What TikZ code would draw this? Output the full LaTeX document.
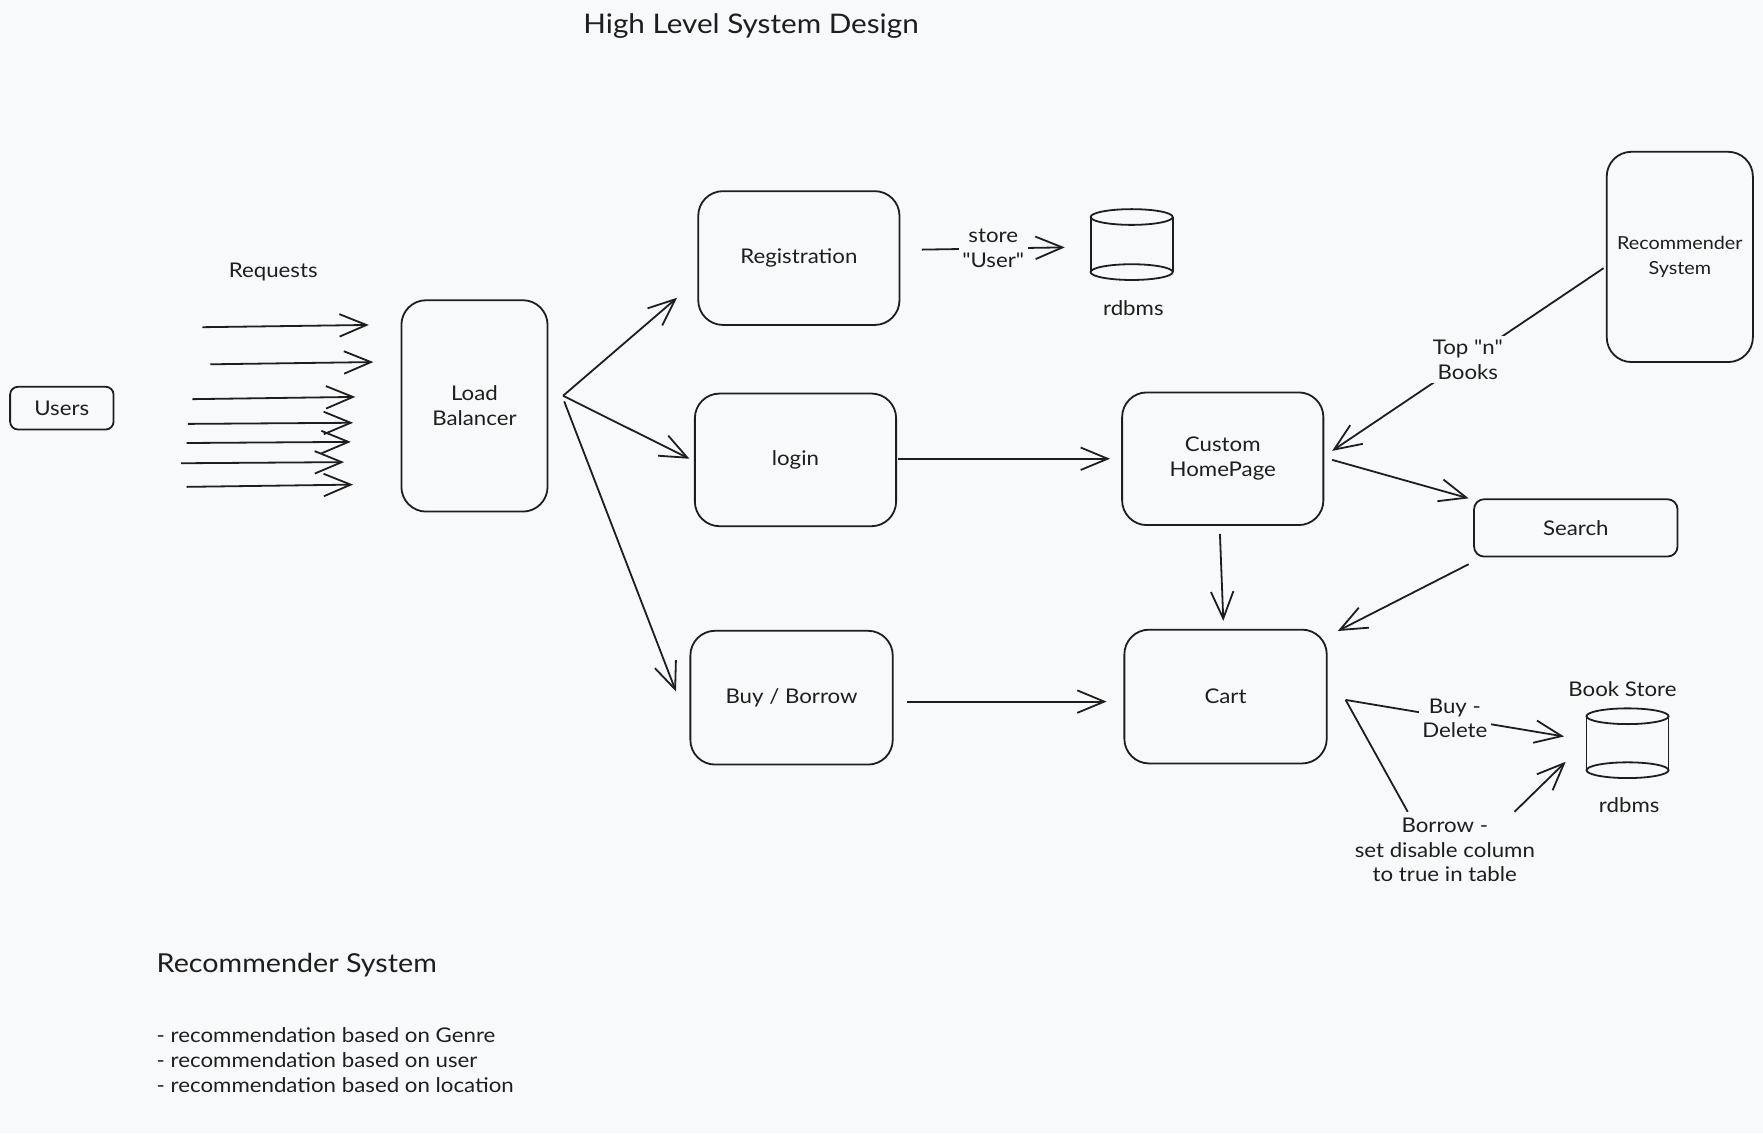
\documentclass[tikz,border=0pt]{standalone}
\usepackage{fontspec}
\setmainfont{Lato}[Ligatures=TeXOff, FakeStretch=1.1]
\usetikzlibrary{arrows.meta,calc}
\definecolor{bg}{HTML}{F8F9FA}
\definecolor{ink}{HTML}{1E1E1E}
\newcommand{\lblfont}{\fontsize{9pt}{11pt}\selectfont}
\begin{document}
\begin{tikzpicture}[x=0.5pt,y=-0.5pt,
  box/.style={draw=ink, line width=0.8pt, rounded corners=11pt, align=center,
              font=\lblfont, text=ink, inner sep=0pt},
  dbbox/.style={inner sep=0pt, outer sep=0pt},
  txt/.style={font=\lblfont, text=ink, inner sep=0pt, align=center},
  lbl/.style={font=\lblfont, text=ink, inner sep=1.5pt, align=center, fill=bg},
  arr/.style={draw=ink, line width=0.8pt, -{Straight Barb[length=12pt,width=10pt]}},
  ln/.style={draw=ink, line width=0.8pt}
]
\fill[bg] (0,0) rectangle (1568,1008);
\useasboundingbox (0,0) rectangle (1568,1008);

% title
\node[txt, font=\fontsize{12pt}{14pt}\selectfont] (title) at (668,23) {High Level System Design};

% boxes
\node[box, rounded corners=3.5pt, minimum width=46pt, minimum height=19pt] (users) at (55,363) {Users};
\node[box, minimum width=65pt, minimum height=94pt] (lb) at (422,361) {Load\\Balancer};
\node[box, minimum width=89.5pt, minimum height=59.5pt] (reg) at (710.5,229.5) {Registration};
\node[box, minimum width=89.5pt, minimum height=59pt] (login) at (707.5,409) {login};
\node[box, minimum width=90pt, minimum height=59.5pt] (buy) at (704,620.5) {Buy / Borrow};
\node[box, minimum width=89.5pt, minimum height=59pt] (home) at (1087.5,408) {Custom\\HomePage};
\node[box, minimum width=90pt, minimum height=59.5pt] (cart) at (1090,619.5) {Cart};
\node[box, rounded corners=4.5pt, minimum width=90.5pt, minimum height=25.5pt] (search) at (1401.5,469.5) {Search};
\node[box, font=\fontsize{8pt}{11pt}\selectfont, minimum width=65pt, minimum height=93.5pt] (rec) at (1494,228.5) {Recommender\\System};

% databases
\node[dbbox, minimum width=36.5pt, minimum height=31.5pt] (db1) at (1006.5,217.5) {};
\node[dbbox, minimum width=36.5pt, minimum height=31pt] (db2) at (1447.5,661) {};
\foreach \d in {db1,db2}{
  \draw[ln] ($(\d.north)+(0,7)$) ellipse [x radius=18.25pt, y radius=3.5pt];
  \draw[ln] ($(\d.south)+(0,-7)$) ellipse [x radius=18.25pt, y radius=3.5pt];
  \draw[ln] ($(\d.north west)+(0,7)$) -- ($(\d.south west)+(0,-7)$);
  \draw[ln] ($(\d.north east)+(0,7)$) -- ($(\d.south east)+(0,-7)$);
}

% plain texts
\node[txt] (req) at (243,242) {Requests};
\node[txt] (rdb1) at (1008,274) {rdbms};
\node[txt] (bstore) at (1443,613) {Book Store};
\node[txt] (rdb2) at (1449,716) {rdbms};
\node[txt, anchor=west, font=\fontsize{11.6pt}{14pt}\selectfont] (rshead) at (139,858) {Recommender System};
\node[txt, anchor=west, align=left, font=\fontsize{9pt}{11.25pt}\selectfont] (rslist) at (139,943)
  {- recommendation based on Genre\\- recommendation based on user\\- recommendation based on location};

% request arrows
\foreach \i/\a/\b/\c/\d in {1/180/291/328/289, 2/187/324/332/322, 3/171/355/316/353,
    4/167/377/314/376, 5/166/394/312/393, 6/161/412/306/411, 7/166/433/314/431}{
  \coordinate (rs\i) at (\a,\b);
  \coordinate (re\i) at (\c,\d);
  \draw[arr] (rs\i) -- (re\i);
}

% load balancer fan-out
\coordinate (lbo) at ($(lb.east)+(13,-9)$);
\coordinate (lbo2) at ($(lb.east)+(14,-4)$);
\draw[arr] (lbo) -- ($(reg.south west)+(-18,-25)$);
\draw[arr] (lbo) -- ($(login.west)+(-4,-1)$);
\draw[arr] (lbo2) -- ($(buy.west)+(-12,-5.5)$);

% registration -> rdbms
\draw[arr] ($(reg.east)+(19,-7.5)$) -- node[lbl] (storelbl) {store\\"User"} ($(db1.west)+(-23,2.5)$);

% login -> home, buy -> cart
\draw[arr] ($(login.east)+(1,-1)$) -- ($(home.west)+(-10,0)$);
\draw[arr] ($(buy.east)+(12,3.5)$) -- ($(cart.west)+(-15,4.5)$);

% home -> cart, home -> search, search -> cart
\draw[arr] ($(home.south)+(-2.5,7)$) -- ($(cart.north)+(-2,-7)$);
\draw[arr] ($(home.east)+(7,1)$) -- ($(search.north west)+(-4,0)$);
\draw[arr] ($(search.south west)+(-4,6)$) -- ($(cart.north east)+(9,2)$);

% recommender -> home
\draw[arr] ($(rec.west)+(-2,10)$) -- node[lbl] (toplbl) {Top "n"\\Books} ($(home.east)+(7,-7)$);

% cart -> book store
\coordinate (cout) at ($(cart.east)+(16,3)$);
\draw[arr] (cout) -- node[lbl] (buylbl) {Buy -\\Delete} ($(db2.west)+(-20,-6)$);
\node[txt] (borrowlbl) at (1285,756) {Borrow -\\set disable column\\to true in table};
\coordinate (bw1) at (1252,722);
\coordinate (bw2) at (1347,722);
\draw[ln] (cout) -- (bw1);
\draw[arr] (bw2) -- ($(db2.west)+(-18.5,16.5)$);
\end{tikzpicture}
\end{document}
